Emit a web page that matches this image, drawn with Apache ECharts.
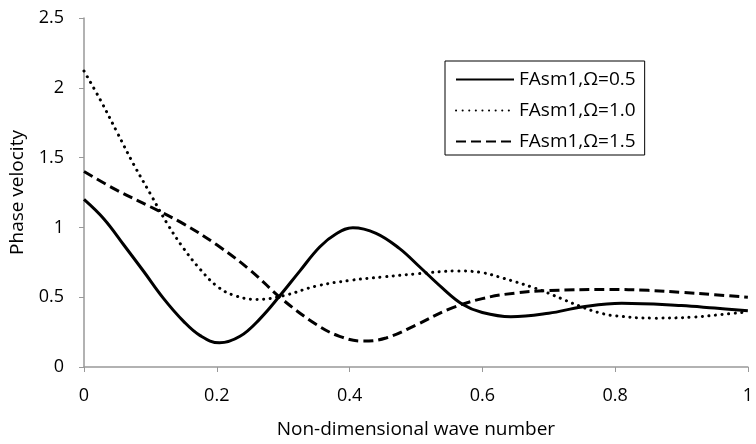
<!DOCTYPE html>
<html>
<head>
<meta charset="utf-8">
<script src="https://cdn.jsdelivr.net/npm/echarts@6/dist/echarts.min.js"></script>
<style>
html,body{margin:0;padding:0;background:#fff;}
#c{width:756px;height:444px;}
</style>
</head>
<body>
<div id="c"></div>
<script>
// Ω = 0.5 (solid)
const k05 = [0,0.03,0.06,0.09,0.12,0.15,0.175,0.204,0.235,0.265,0.295,0.325,0.355,0.38,0.405,0.44,0.475,0.505,0.54,0.57,0.6,0.643,0.7,0.75,0.81,0.9,0.95,1.0];
const v05 = [1.20,1.06,0.874,0.684,0.49,0.327,0.225,0.173,0.22,0.345,0.51,0.687,0.86,0.955,0.998,0.958,0.85,0.72,0.565,0.45,0.39,0.36,0.385,0.43,0.457,0.44,0.422,0.403];
// Ω = 1.0 (dotted)
const k10 = [0,0.025,0.05,0.075,0.1,0.125,0.15,0.175,0.2,0.225,0.26,0.3,0.35,0.4,0.45,0.5,0.565,0.6,0.625,0.65,0.675,0.7,0.725,0.75,0.775,0.8,0.86,0.92,0.96,1.0];
const v10 = [2.12,1.91,1.68,1.45,1.24,1.03,0.85,0.70,0.58,0.515,0.484,0.51,0.58,0.62,0.645,0.667,0.688,0.676,0.645,0.61,0.572,0.528,0.478,0.43,0.39,0.367,0.35,0.358,0.376,0.395];
// Ω = 1.5 (dashed)
const k15 = [0,0.05,0.1,0.15,0.2,0.25,0.3,0.35,0.385,0.42,0.455,0.5,0.55,0.6,0.65,0.7,0.79,0.85,0.9,0.95,1.0];
const v15 = [1.40,1.265,1.148,1.025,0.875,0.695,0.48,0.305,0.22,0.186,0.208,0.30,0.415,0.49,0.53,0.547,0.556,0.549,0.535,0.518,0.50];

const seriesNames = ['FAsm1,Ω=0.5','FAsm1,Ω=1.0','FAsm1,Ω=1.5'];
const yTicks = {min:0,max:2.5,interval:0.5};
const xTicks = {min:0,max:1,interval:0.2};

const pair = (xs,ys) => xs.map((x,i)=>[x,ys[i]]);
const font = 'Open Sans';
const chart = echarts.init(document.getElementById('c'));
chart.setOption({
  animation:false,
  backgroundColor:'#fff',
  grid:{left:83,right:4,top:18,bottom:74,containLabel:false},
  legend:{
    orient:'vertical', left:445, top:61,
    padding:[9,9,4,10],
    itemWidth:58, itemHeight:20, itemGap:12,
    borderColor:'#000', borderWidth:1,
    itemStyle:{opacity:0},
    textStyle:{fontFamily:font,fontSize:19,color:'#000'},
    data:seriesNames
  },
  xAxis:{
    type:'value', min:xTicks.min, max:xTicks.max, interval:xTicks.interval,
    name:'Non-dimensional wave number', nameLocation:'middle', nameGap:53,
    nameTextStyle:{fontFamily:font,fontSize:19,color:'#000'},
    axisLine:{lineStyle:{color:'#999',width:1.5}},
    axisTick:{show:true,length:5,lineStyle:{color:'#999'}},
    axisLabel:{fontFamily:font,fontSize:18,color:'#000',margin:20},
    splitLine:{show:false}
  },
  yAxis:{
    type:'value', min:yTicks.min, max:yTicks.max, interval:yTicks.interval,
    name:'Phase velocity', nameLocation:'middle', nameGap:57,
    nameTextStyle:{fontFamily:font,fontSize:19,color:'#000'},
    axisLine:{show:true,lineStyle:{color:'#999',width:1.5}},
    axisTick:{show:true,length:5,lineStyle:{color:'#999'}},
    axisLabel:{fontFamily:font,fontSize:18,color:'#000',margin:20},
    splitLine:{show:false}
  },
  series:[
    {name:seriesNames[0],type:'line',smooth:0.4,symbol:'none',data:pair(k05,v05),
     lineStyle:{color:'#000',width:3,type:'solid'},itemStyle:{color:'#000'}},
    {name:seriesNames[1],type:'line',smooth:0.4,symbol:'none',data:pair(k10,v10),
     lineStyle:{color:'#000',width:3,type:[0.1,6.5],cap:'round'},itemStyle:{color:'#000'}},
    {name:seriesNames[2],type:'line',smooth:0.4,symbol:'none',data:pair(k15,v15),
     lineStyle:{color:'#000',width:3,type:[10,5]},itemStyle:{color:'#000'}}
  ]
});
</script>
</body>
</html>
